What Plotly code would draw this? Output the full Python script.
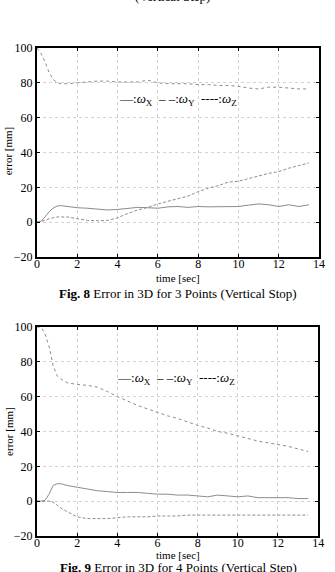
import plotly.graph_objects as go

# ---------------- data ----------------
time = [0, 0.2, 0.4, 0.6, 0.8, 1.0, 1.2, 1.5, 2, 2.5, 3, 3.5, 4, 4.5, 5, 5.5, 6,
        6.5, 7, 7.5, 8, 8.5, 9, 9.5, 10, 10.5, 11, 11.5, 12, 12.5, 13, 13.5]

fig8_wx = [0, 0.5, 3, 6, 8, 9.3, 9.5, 9, 8.3, 8, 7.3, 7, 7.3, 8, 8.5, 8.3, 8,
           8.8, 9, 8.5, 9, 8.8, 8.8, 9, 9, 9.8, 10.5, 10, 9, 10, 9, 10]
fig8_wy = [0, 0.3, 1, 2, 2.7, 3, 3, 3, 2, 1, 0.8, 1, 2.5, 5, 7, 8.5, 10.5,
           12, 13.5, 15, 17.5, 19.5, 21, 23, 23.5, 25, 26.5, 28, 29, 31, 32.5, 34]
fig8_wz = [100, 97, 92, 86, 82, 80, 79.5, 79.5, 80, 80.5, 81, 81, 80.5, 80.5,
           80.5, 81.5, 80, 79.5, 79.5, 79.5, 79, 79, 78.5, 78.5, 78, 77, 76.5,
           77.5, 77.5, 77, 76.5, 76.5]

fig9_wx = [0, 0, 0.5, 4, 9, 10, 10, 9, 8, 7, 6, 5.5, 5, 5, 5, 4.5, 4, 4, 3.5,
           3.5, 3, 2.5, 3.5, 3, 2.5, 3, 2, 2, 2, 2, 1.5, 1.5]
fig9_wy = [0, 0, 0, 0, -0.5, -2.5, -4, -6, -9, -10, -10, -10, -9.5, -9, -9, -9,
           -8.5, -8.5, -8.5, -8, -8, -8, -8, -8, -8, -8, -8, -8, -8, -8, -8, -8]
fig9_wz = [100, 100, 96, 89, 78, 72, 70, 68, 67, 66.5, 65.5, 63, 60, 57.5, 55,
           53, 51, 49, 47.5, 45.5, 43.5, 42, 40, 39, 37.5, 36, 34.5, 33.5, 32.5,
           31.5, 30, 28.5]

x_ticks = [0, 2, 4, 6, 8, 10, 12, 14]
y_ticks = [-20, 0, 20, 40, 60, 80, 100]

caption8 = "<b>Fig. 8</b> Error in 3D for 3 Points (Vertical Stop)"
caption9 = "<b>Fig. 9</b> Error in 3D for 4 Points (Vertical Step)"
top_text = "(Vertical Step)"
legend_text = ("—:<i>ω</i><sub>X</sub>  – –:<i>ω</i><sub>Y</sub>  ----:<i>ω</i><sub>Z</sub>")

# ---------------- figure ----------------
FONT = "Liberation Serif, Times New Roman, serif"
LINE = "#8c8c8c"

fig = go.Figure()

def add_series(xa, ya, wx, wy, wz):
    fig.add_trace(go.Scatter(x=time, y=wx, mode="lines", xaxis=xa, yaxis=ya,
                             line=dict(color=LINE, width=1)))
    fig.add_trace(go.Scatter(x=time, y=wy, mode="lines", xaxis=xa, yaxis=ya,
                             line=dict(color=LINE, width=1, dash="3px,2px")))
    fig.add_trace(go.Scatter(x=time, y=wz, mode="lines", xaxis=xa, yaxis=ya,
                             line=dict(color=LINE, width=1, dash="dot")))

add_series("x", "y", fig8_wx, fig8_wy, fig8_wz)
add_series("x2", "y2", fig9_wx, fig9_wy, fig9_wz)

axis_common = dict(showline=True, linecolor="black", linewidth=2, mirror="ticks",
                   showgrid=True, gridcolor="#d2d2d2", gridwidth=1, griddash="dot",
                   zeroline=False, ticks="inside", ticklen=3, tickcolor="black",
                   tickfont=dict(family=FONT, size=12, color="black"))
xaxis_extra = dict(ticklabelstandoff=-5)

fig.update_layout(
    width=335, height=572,
    margin=dict(l=37, r=10, t=48, b=36),
    paper_bgcolor="white", plot_bgcolor="white",
    showlegend=False,
    font=dict(family=FONT, color="black"),
    xaxis=dict(domain=[0, 1], anchor="y", range=[0, 14], tickvals=x_ticks,
               **axis_common, **xaxis_extra),
    yaxis=dict(domain=[0.5717, 1.0], anchor="x", range=[-20, 100], tickvals=y_ticks, **axis_common),
    xaxis2=dict(domain=[0, 0.997], anchor="y2", range=[0, 14], tickvals=x_ticks,
                **axis_common, **xaxis_extra),
    yaxis2=dict(domain=[0, 0.4283], anchor="x2", range=[-20, 100], tickvals=y_ticks, **axis_common),
)

ann = []
ann.append(dict(text=top_text, x=0.48, y=1.086, xref="paper", yref="paper",
                xanchor="center", yanchor="bottom", showarrow=False,
                font=dict(family=FONT, size=13)))
# axis titles
for yc in [0.546, -0.0225]:
    ann.append(dict(text="time [sec]", x=0.5, y=yc, xref="paper", yref="paper",
                    xanchor="center", yanchor="top", showarrow=False,
                    font=dict(family=FONT, size=11)))
for yc in [0.79, 0.215]:
    ann.append(dict(text="error [mm]", x=-0.1, y=yc, xref="paper", yref="paper",
                    xanchor="center", yanchor="middle", textangle=-90, showarrow=False,
                    font=dict(family=FONT, size=11)))
# captions
ann.append(dict(text=caption8, x=0.5, y=0.496, xref="paper", yref="paper",
                xanchor="center", yanchor="middle", showarrow=False,
                font=dict(family=FONT, size=13)))
ann.append(dict(text=caption9, x=0.5, y=-0.0655, xref="paper", yref="paper",
                xanchor="center", yanchor="middle", showarrow=False,
                font=dict(family=FONT, size=13)))
# legends
ann.append(dict(text=legend_text, x=7.0, y=70.5, xref="x", yref="y",
                xanchor="center", yanchor="middle", showarrow=False,
                font=dict(family=FONT, size=13)))
ann.append(dict(text=legend_text, x=6.9, y=70.5, xref="x2", yref="y2",
                xanchor="center", yanchor="middle", showarrow=False,
                font=dict(family=FONT, size=13)))
fig.update_layout(annotations=ann)

fig.write_html("out.html")
